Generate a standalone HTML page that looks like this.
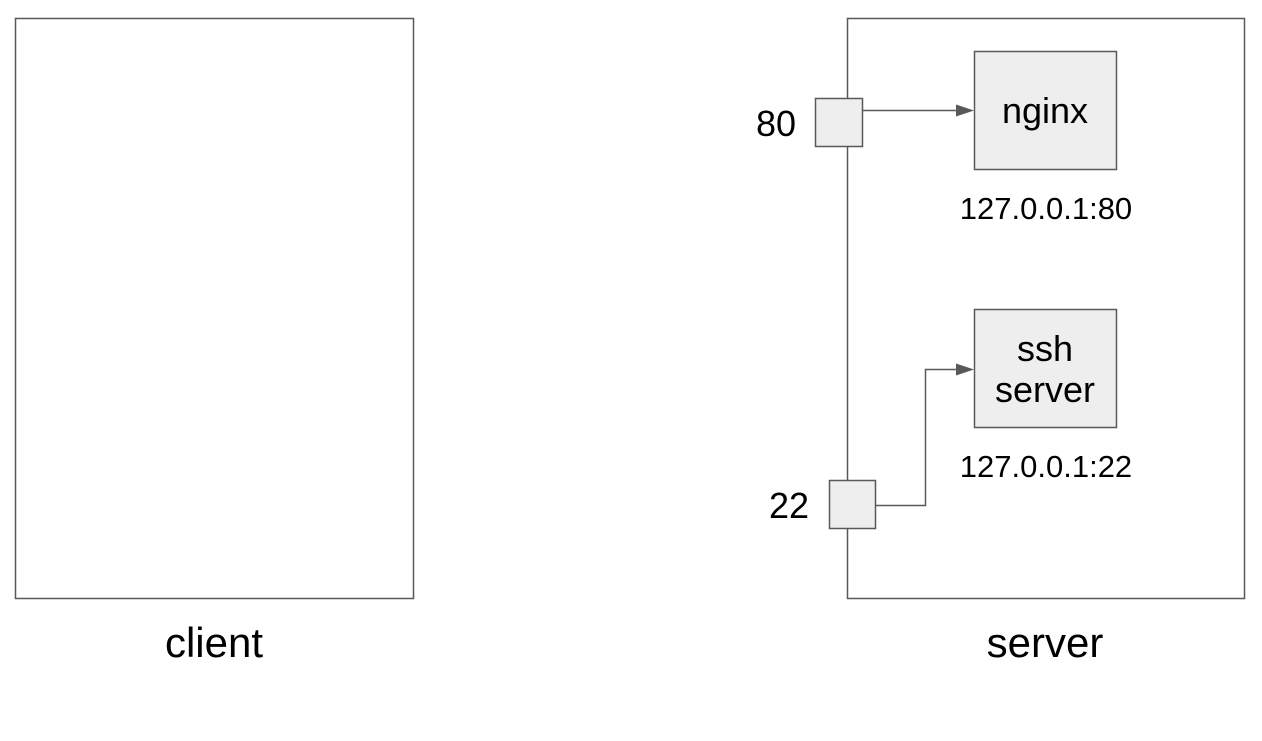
<!DOCTYPE html>
<html><head><style>body{margin:0;background:#fff}</style></head><body>
<svg width="1262" height="736" xmlns="http://www.w3.org/2000/svg" font-family="Liberation Sans, Arial, sans-serif">
<rect width="1262" height="736" fill="#fff"/>
<g fill="none" stroke="#595959" stroke-width="1.5">
<rect x="15.5" y="18.5" width="398" height="580"/>
<rect x="847.5" y="18.5" width="397" height="580"/>
</g>
<g fill="#eeeeee" stroke="#595959" stroke-width="1.5">
<rect x="974.5" y="51.5" width="142" height="118"/>
<rect x="974.5" y="309.5" width="142" height="118"/>
<rect x="815.5" y="98.5" width="47" height="48"/>
<rect x="829.5" y="480.5" width="46" height="48"/>
</g>
<g stroke="#595959" stroke-width="1.5" fill="none">
<line x1="862" y1="110.5" x2="958" y2="110.5"/>
<polyline points="875,505.5 925.5,505.5 925.5,369.5 958,369.5"/>
</g>
<g fill="#595959">
<polygon points="974,110.5 956,104.5 956,116.5"/>
<polygon points="974,369.5 956,363.5 956,375.5"/>
</g>
<g fill="#000" text-anchor="middle">
<text x="1045" y="123" font-size="36">nginx</text>
<text x="1045" y="361" font-size="36">ssh</text>
<text x="1045" y="402" font-size="36">server</text>
<text x="1046" y="219" font-size="31">127.0.0.1:80</text>
<text x="1046" y="477" font-size="31">127.0.0.1:22</text>
<text x="776" y="136" font-size="36">80</text>
<text x="789" y="518" font-size="36">22</text>
<text x="214" y="657" font-size="42">client</text>
<text x="1045" y="657" font-size="42">server</text>
</g>
</svg>
</body></html>
